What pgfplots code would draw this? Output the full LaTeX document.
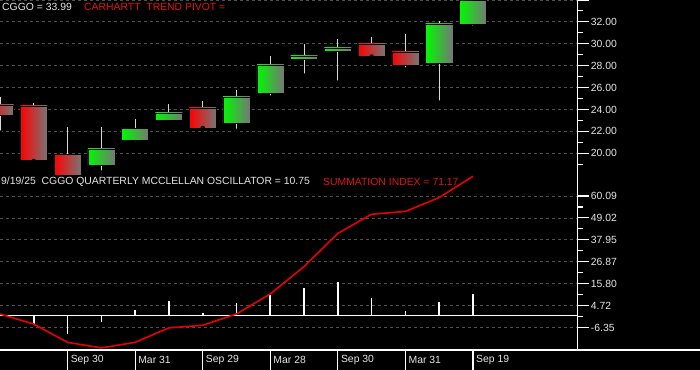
\documentclass[border=0pt]{standalone}
\usepackage{fontspec}
\setmainfont{Liberation Sans}
\usepackage{pgfplots}
\pgfplotsset{compat=1.18}
\usepackage{pgfplotstable}
\definecolor{txt}{RGB}{228,228,228}
\definecolor{rtxt}{RGB}{225,20,20}
\definecolor{gridc}{RGB}{80,80,80}
\definecolor{cred}{RGB}{255,0,0}
\definecolor{cgreen}{RGB}{0,250,0}
\definecolor{cgray}{RGB}{118,118,118}
\definecolor{wick}{RGB}{215,215,215}
\definecolor{sumred}{RGB}{232,0,0}
\newcommand\lbl{\fontsize{10.4bp}{12bp}\selectfont}

% quarterly candles: x o h l c
\pgfplotstableread{
x o h l c
3 18.87 22.43 18.23 20.39
4 21.21 23.13 20.91 22.28
5 23.04 24.50 22.80 23.68
7 22.77 25.78 22.04 25.14
8 25.45 28.89 25.08 28.07
9 28.55 29.99 27.09 28.89
10 29.29 30.45 26.45 29.62
13 28.19 32.09 24.62 31.82
14 31.75 33.99 31.48 33.99
}\upc
\pgfplotstableread{
x o h l c
0 24.41 25.17 21.88 23.44
1 24.32 24.62 19.29 19.39
2 19.91 22.43 18.02 18.02
6 24.14 24.81 22.31 22.31
11 29.99 30.66 28.83 28.83
12 29.26 30.88 27.64 28.01
}\downc
\pgfplotstableread{
x osc
1 -4.6
2 -9.7
3 -3.3
4 2.7
5 7.2
6 1.2
7 6.2
8 10.2
9 13.9
10 16.8
11 8.9
12 2.2
13 6.7
14 10.75
}\osc
\pgfplotstableread{
x sum
0 0.6
1 -4.5
2 -13.7
3 -16.5
4 -13.7
5 -6.4
6 -5.1
7 0.6
8 10.7
9 24.5
10 41.2
11 50.9
12 52.3
13 59.3
14 70.0
}\summ

\pgfplotsset{
  panel/.style={scale only axis, width=577.7bp, xmin=0, xmax=17.1,
    axis x line=none, axis y line*=right,
    axis line style={white, line width=1.2bp},
    tick align=outside, major tick length=11bp, minor tick length=5bp,
    tick style={white, line width=1.1bp},
    yticklabel style={text=txt, font=\lbl, inner sep=2bp},
    ymajorgrids, major grid style={gridc, line width=0.8bp, dash pattern=on 3bp off 3bp}},
  wickplot/.style={only marks, mark=none,
    error bars/.cd, y dir=plus, y explicit, error mark=none,
    error bar style={wick, line width=1bp, solid}},
  bodyplot/.style={scatter, only marks, mark=-, mark size=0pt, point meta=y,
    clip marker paths=true,
    visualization depends on={\thisrow{c}-\thisrow{o} \as \bodyh},
    scatter/@pre marker code/.code={\shade[left color=#1, right color=cgray] (axis direction cs:-0.4,0) rectangle (axis direction cs:0.4,\bodyh);},
    scatter/@post marker code/.code={}},
}

\begin{document}
\begin{tikzpicture}
\fill[black] (0,0) rectangle (700bp,-370bp);
\useasboundingbox (0,0) rectangle (700bp,-370bp);

% price panel
\begin{axis}[panel, at={(0,0)}, anchor=north west, height=174bp,
  ymin=18.1, ymax=34.0,
  ytick={20,22,...,34}, minor ytick={19,21,...,33},
  yticklabels={20.00,22.00,24.00,26.00,28.00,30.00,32.00,{}}]
\addplot[wickplot] table[x=x, y=l, y error expr=\thisrow{h}-\thisrow{l}] {\upc};
\addplot[wickplot] table[x=x, y=l, y error expr=\thisrow{h}-\thisrow{l}] {\downc};
\addplot[bodyplot=cgreen] table[x=x, y=o] {\upc};
\addplot[bodyplot=cred] table[x=x, y=o] {\downc};
\end{axis}

% oscillator panel
\begin{axis}[panel, at={(0,-174bp)}, anchor=north west, height=176bp,
  ymin=-17.56, ymax=71.17,
  ytick={-6.35,4.72,15.80,26.87,37.95,49.02,60.09},
  yticklabels={-6.35,4.72,15.80,26.87,37.95,49.02,60.09},
  minor ytick={-0.815,10.26,21.335,32.41,43.485,54.555}]
\addplot[white, line width=1.1bp, forget plot] coordinates {(0,0) (17.1,0)};
\addplot[ycomb, white, line width=1.6bp, mark=none] table[x=x, y=osc] {\osc};
\addplot[sumred, line width=1.6bp, mark=none] table[x=x, y=sum] {\summ};
\end{axis}

% date band
\begin{axis}[scale only axis, at={(0,-350bp)}, anchor=north west,
  width=577.7bp, height=20bp, xmin=0, xmax=17.1, ymin=0, ymax=1,
  axis line style={draw=none}, ytick=\empty,
  xtick={2,4,...,14}, major tick length=0pt,
  xticklabels={Sep 30,Mar 31,Sep 29,Mar 28,Sep 30,Mar 31,Sep 19},
  xticklabel style={anchor=west, text=txt, font=\lbl, yshift=10bp, inner sep=3bp},
  xmajorgrids, major grid style={white, line width=1.1bp}]
\addplot[draw=none, mark=none] coordinates {(0,0) (17.1,1)};
\end{axis}
\draw[white, line width=1.1bp] (0,-350bp) -- (700bp,-350bp);

% titles
\node[anchor=west, inner sep=0, text=txt, font=\lbl] at (2bp,-6.5bp) {CGGO = 33.99};
\node[anchor=west, inner sep=0, text=rtxt, font=\lbl] at (84bp,-6.5bp) {CARHARTT\ \ TREND PIVOT =};
\node[anchor=west, inner sep=0, text=txt, font=\lbl] at (1bp,-182bp) {9/19/25\ \ CGGO QUARTERLY MCCLELLAN OSCILLATOR = 10.75};
\node[anchor=west, inner sep=0, text=rtxt, font=\lbl] at (323bp,-182bp) {SUMMATION INDEX = 71.17};
\end{tikzpicture}
\end{document}
